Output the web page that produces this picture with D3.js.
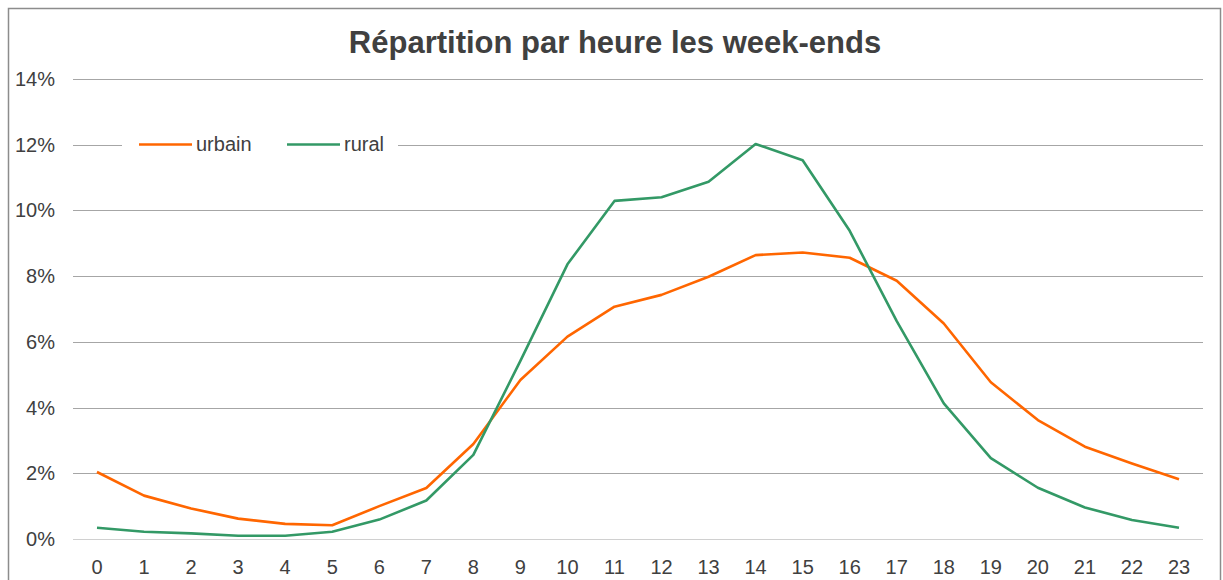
<!DOCTYPE html>
<html>
<head>
<meta charset="utf-8">
<script src="https://cdn.jsdelivr.net/npm/d3@7"></script>
<style>
  body { margin: 0; background: #fff; }
  text { font-family: "Liberation Sans", Arial, sans-serif; fill: #404040; }
</style>
</head>
<body>
<div id="chart"></div>
<script>
var hours = d3.range(0, 24).map(String);
var urbain = [2.04, 1.32, 0.93, 0.62, 0.46, 0.42, 1.0, 1.55, 2.89, 4.84, 6.16, 7.07,
              7.43, 7.98, 8.64, 8.72, 8.56, 7.86, 6.56, 4.77, 3.62, 2.81, 2.30, 1.82];
var rural = [0.34, 0.22, 0.17, 0.10, 0.10, 0.22, 0.59, 1.17, 2.56, 5.42, 8.36, 10.29,
             10.40, 10.87, 12.02, 11.53, 9.38, 6.63, 4.13, 2.46, 1.56, 0.96, 0.58, 0.34];
var yTicks = [0, 2, 4, 6, 8, 10, 12, 14];
var seriesNames = ["urbain", "rural"];
var seriesColors = ["#ff6600", "#339966"];

(function(){
  var width = 1223, height = 580;

  var svg = d3.select("#chart").append("svg")
    .attr("width", width)
    .attr("height", height);

  // outer frame
  svg.append("rect")
    .attr("x", 8.5).attr("y", 8.5)
    .attr("width", 1212).attr("height", 600)
    .attr("fill", "none").attr("stroke", "#8c8c8c").attr("stroke-width", 1.5);

  svg.append("text")
    .attr("x", 615).attr("y", 53)
    .attr("text-anchor", "middle")
    .style("font-size", "31px").style("font-weight", "bold")
    .text("Répartition par heure les week-ends");

  var x = d3.scalePoint().domain(hours).range([97, 1179]);
  var y = d3.scaleLinear().domain([0, 14]).range([539, 79]);

  // gridlines
  svg.append("g").selectAll("line")
    .data(yTicks)
    .enter().append("line")
    .attr("x1", 73).attr("x2", 1203)
    .attr("y1", function(d){ return Math.round(y(d)) + 0.5; })
    .attr("y2", function(d){ return Math.round(y(d)) + 0.5; })
    .attr("stroke", function(d){ return d === 0 ? "#d0d0d0" : "#a6a6a6"; })
    .attr("stroke-width", 1.2);

  // y axis labels
  svg.append("g").selectAll("text")
    .data(yTicks)
    .enter().append("text")
    .attr("x", 55)
    .attr("y", function(d){ return y(d); })
    .attr("dy", "0.35em")
    .attr("text-anchor", "end")
    .style("font-size", "20px")
    .text(function(d){ return d + "%"; });

  // x axis labels
  svg.append("g").selectAll("text")
    .data(hours)
    .enter().append("text")
    .attr("x", function(d){ return x(d); })
    .attr("y", 567)
    .attr("dy", "0.35em")
    .attr("text-anchor", "middle")
    .style("font-size", "20px")
    .text(function(d){ return d; });

  var line = d3.line()
    .x(function(d, i){ return x(hours[i]); })
    .y(function(d){ return y(d); });

  [urbain, rural].forEach(function(vals, k){
    svg.append("path")
      .datum(vals)
      .attr("d", line)
      .attr("fill", "none")
      .attr("stroke", seriesColors[k])
      .attr("stroke-width", 2.6)
      .attr("stroke-linejoin", "round");
  });

  // legend (sits over the 12% gridline)
  var leg = svg.append("g");
  leg.append("rect")
    .attr("x", 122).attr("y", 130).attr("width", 276).attr("height", 30)
    .attr("fill", "#fff");
  var legX = [139, 287];
  seriesNames.forEach(function(name, k){
    leg.append("line")
      .attr("x1", legX[k]).attr("x2", legX[k] + 53)
      .attr("y1", 144.5).attr("y2", 144.5)
      .attr("stroke", seriesColors[k]).attr("stroke-width", 2.6);
    leg.append("text")
      .attr("x", legX[k] + 57).attr("y", 144)
      .attr("dy", "0.35em")
      .style("font-size", "20px")
      .text(name);
  });
})();
</script>
</body>
</html>
